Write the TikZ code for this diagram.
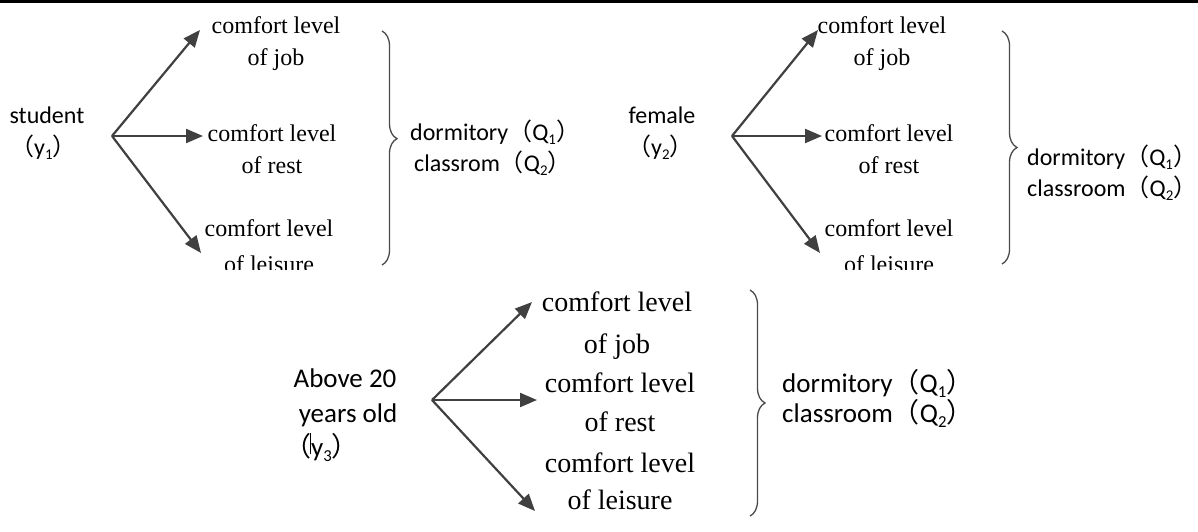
\documentclass[tikz,border=0pt]{standalone}
\usepackage{fontspec}
\usepackage{graphicx}
\usetikzlibrary{arrows.meta,decorations.pathreplacing}
\newfontfamily\sfc{Carlito}
\newfontfamily\ser{Liberation Serif}
\newfontfamily\cjk{Noto Sans CJK SC}
\newcommand\lp{\smash{\cjk （}}
\newcommand\rp{\smash{\cjk ）}}
\newcommand\sbs[1]{\raisebox{-0.2em}{\scalebox{0.62}{#1}}}
\definecolor{arrgray}{HTML}{404040}
\definecolor{bracegray}{HTML}{4A4A4A}
\begin{document}
\begin{tikzpicture}[x=1pt,y=-1pt,
  arr/.style={draw=arrgray, line width=2.2pt, -{Triangle[length=17pt,width=14pt]}},
  brc/.style={draw=bracegray, line width=1.3pt, decorate, decoration={brace, amplitude=15pt, aspect=#1}},
  brc/.default=0.5,
  ser1/.style={font=\ser\fontsize{24}{24}\selectfont, anchor=base, inner sep=0pt},
  ser3/.style={font=\ser\fontsize{28}{28}\selectfont, anchor=base, inner sep=0pt},
  sf1/.style={font=\sfc\fontsize{24}{24}\selectfont, anchor=base, inner sep=0pt},
  sf1l/.style={sf1, anchor=base west},
  sf3/.style={font=\sfc\fontsize{27}{27}\selectfont, anchor=base, inner sep=0pt},
  sf3l/.style={sf3, anchor=base west}]
\useasboundingbox (0,0) rectangle (1198,531);
\fill[white] (0,0) rectangle (1198,531);
\draw[line width=2.5pt] (0,1.25) -- (1198,1.25);

% ---------- group 1 ----------
\node[sf1] (s1) at (47,123) {student};
\node[sf1l] (y1) at (10,155) {\lp y\sbs{1}\rp};
\coordinate (o1) at (112,136);
\coordinate (t1a) at (200,30);
\coordinate (t1b) at (203,136);
\coordinate (t1c) at (201,253);
\node[ser1] (c1a) at (276,33) {comfort level};
\node[ser1] (c1b) at (276,65) {of job};
\node[ser1] (c1c) at (272,141) {comfort level};
\node[ser1] (c1d) at (272,173) {of rest};
\node[ser1] (c1e) at (269,236) {comfort level};
\begin{scope}
  \clip (0,0) rectangle (1198,269);
  \node[ser1] (c1f) at (269,272) {of leisure};
  \node[ser1] (c2f) at (889,272) {of leisure};
\end{scope}
\draw[arr] (o1) -- (t1a);
\draw[arr] (o1) -- (t1b);
\draw[arr] (o1) -- (t1c);
\draw[brc=0.46] (382,31) -- (382,265);
\node[sf1l] (d1) at (410,140) {dormitory\lp Q\sbs{1}\rp};
\node[sf1l] (q1) at (414,171) {classrom\lp Q\sbs{2}\rp};

% ---------- group 2 ----------
\node[sf1] (s2) at (662,123) {female};
\node[sf1l] (y2) at (627,155) {\lp y\sbs{2}\rp};
\coordinate (o2) at (732,136);
\coordinate (t2a) at (818,30);
\coordinate (t2b) at (822,136);
\coordinate (t2c) at (820,253);
\node[ser1] (c2a) at (882,33) {comfort level};
\node[ser1] (c2b) at (882,65) {of job};
\node[ser1] (c2c) at (889,141) {comfort level};
\node[ser1] (c2d) at (889,173) {of rest};
\node[ser1] (c2e) at (889,236) {comfort level};
\draw[arr] (o2) -- (t2a);
\draw[arr] (o2) -- (t2b);
\draw[arr] (o2) -- (t2c);
\draw[brc=0.5] (1002,31) -- (1002,264);
\node[sf1l] (d2) at (1027,165) {dormitory\lp Q\sbs{1}\rp};
\node[sf1l] (q2) at (1027,196) {classroom\lp Q\sbs{2}\rp};

% ---------- group 3 ----------
\node[sf3] (s3a) at (345,387) {Above 20};
\node[sf3] (s3b) at (348,422) {years old};
\node[sf3l] (y3) at (284,456) {\lp y\sbs{3}\rp};
\draw[line width=1pt] (310,433) -- (310,454);
\coordinate (o3) at (432,400);
\coordinate (t3a) at (532,302);
\coordinate (t3b) at (537,400);
\coordinate (t3c) at (535,511);
\node[ser3] (c3a) at (617,311) {comfort level};
\node[ser3] (c3b) at (617,353) {of job};
\node[ser3] (c3c) at (620,392) {comfort level};
\node[ser3] (c3d) at (620,431) {of rest};
\node[ser3] (c3e) at (620,472) {comfort level};
\node[ser3] (c3f) at (620,509) {of leisure};
\draw[arr] (o3) -- (t3a);
\draw[arr] (o3) -- (t3b);
\draw[arr] (o3) -- (t3c);
\draw[brc=0.5] (750,290) -- (750,516);
\node[sf3l] (d3) at (782,392) {dormitory\lp Q\sbs{1}\rp};
\node[sf3l] (q3) at (782,422) {classroom\lp Q\sbs{2}\rp};
\end{tikzpicture}
\end{document}
